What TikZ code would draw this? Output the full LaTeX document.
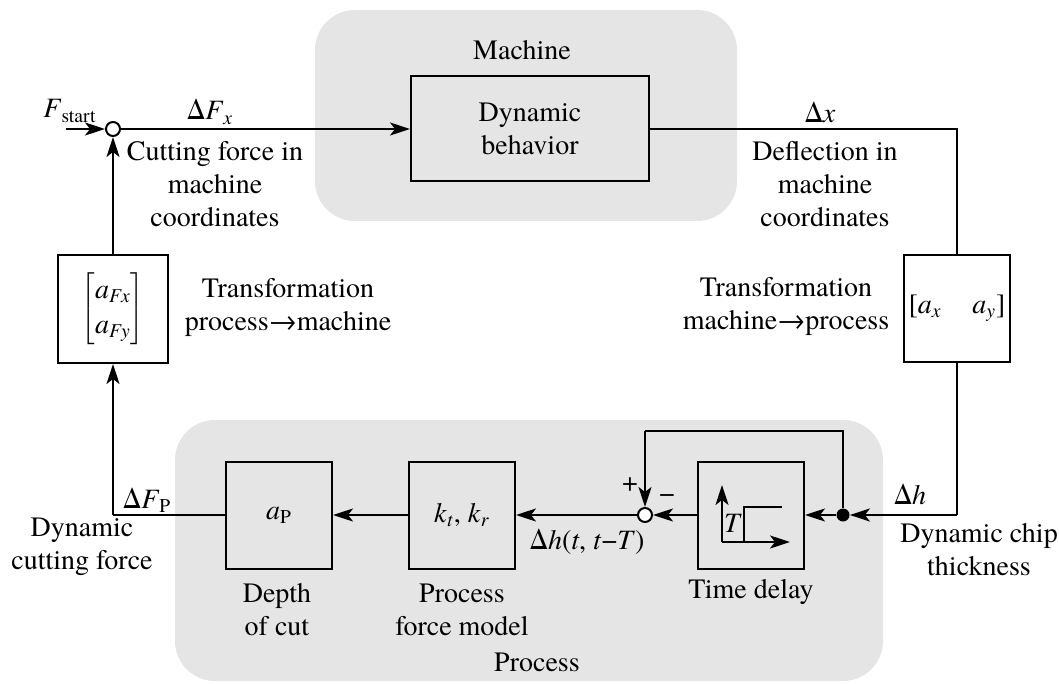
\documentclass[tikz,border=0pt]{standalone}
\usepackage{fontspec}
\setmainfont{texgyretermes}[Extension=.otf,UprightFont=*-regular,ItalicFont=*-italic,BoldFont=*-bold,BoldItalicFont=*-bolditalic]
\usetikzlibrary{arrows.meta}
\newcommand\iv[1]{\textit{#1}}
\begin{document}
\begin{tikzpicture}[x=0.5pt,y=-0.5pt,
  every node/.style={font=\fontsize{14}{16.5}\selectfont},
  line/.style={line width=1pt},
  arr/.style={line width=1pt,-{Stealth[length=10pt,width=6.5pt,inset=2.5pt]}},
  blk/.style={draw,line width=1pt,inner sep=0pt},
  region/.style={fill=gray!20,rounded corners=20pt},
  junc/.style={circle,draw,line width=1pt,fill=white,minimum size=7pt,inner sep=0pt},
  txt/.style={align=center,inner sep=0pt}]
\useasboundingbox (0,0) rectangle (1059,684);
% regions
\fill[region] (315,10) rectangle (737,221);
\fill[region] (175,420) rectangle (883,681);
% blocks
\node[blk,minimum width=119pt,minimum height=52.5pt,txt] (dyn) at (530,129) {Dynamic\\behavior};
\node[blk,minimum width=55pt,minimum height=54pt] (L) at (113,309)
  {$\left[\begin{array}{@{}c@{}}\mbox{\iv{a}\textsubscript{\iv{Fx}}}\\[1pt]\mbox{\iv{a}\textsubscript{\iv{Fy}}}\end{array}\right]$};
\node[blk,minimum width=53pt,minimum height=53.5pt] (R) at (957,308.5) {[\iv{a}\textsubscript{\iv{x}}\hspace{1.1em}\iv{a}\textsubscript{\iv{y}}]};
\node[blk,minimum width=53pt,minimum height=53.5pt] (TD) at (751,515) {};
\node[blk,minimum width=53pt,minimum height=53.5pt] (kt) at (462,515) {\iv{k}\textsubscript{\iv{t}}, \iv{k}\textsubscript{\iv{r}}};
\node[blk,minimum width=53pt,minimum height=53.5pt] (aP) at (279,515) {\iv{a}\textsubscript{P}};
% junctions
\node[junc] (c1) at (113,129) {};
\node[junc] (c2) at (645,515) {};
\node[circle,fill=black,minimum size=6.5pt,inner sep=0pt] (dot) at (843,515) {};
\coordinate (fs) at (66,129);
\coordinate (k1) at (957,129);
\coordinate (k2) at (957,515);
\coordinate (k3) at (113,515);
\coordinate (f1) at (843,431);
\coordinate (f2) at (645,431);
% connectors
\draw[arr] (fs) -- (c1);
\draw[arr] (c1) -- (dyn);
\draw[line] (dyn.east) -- (k1) -- (R.north);
\draw[line] (R.south) -- (k2);
\draw[arr] (k2) -- (dot);
\draw[arr] (dot) -- (TD);
\draw[arr] (TD.west) -- (c2);
\draw[line] (dot) -- (f1) -- (f2);
\draw[arr] (f2) -- (c2);
\draw[arr] (c2) -- (kt);
\draw[arr] (kt) -- (aP);
\draw[line] (aP.west) -- (k3);
\draw[arr] (k3) -- (L);
\draw[arr] (L) -- (c1);
% time delay symbol
\draw[arr] (722,542) -- (722,485);
\draw[arr] (722,542) -- (790,542);
\draw[line] (744,542) -- (744,507) -- (782,507);
\node[inner sep=0pt] (T) at (733,523) {\iv{T}};
% labels
\node (lm) at (522,50) {Machine};
\node (lfs) at (70,111) {\iv{F}\textsubscript{start}};
\node (ldfx) at (210,112) {Δ\iv{F}\textsubscript{\iv{x}}};
\node[txt] (lcut) at (215,184) {Cutting force in\\machine\\coordinates};
\node (ldx) at (820,112) {Δ\iv{x}};
\node[txt] (ldef) at (825,184) {Deflection in\\machine\\coordinates};
\node[txt] (ltr1) at (288,307) {Transformation\\process→machine};
\node[txt] (ltr2) at (786,306) {Transformation\\machine→process};
\node (ldh) at (910,494) {Δ\iv{h}};
\node[txt] (lchip) at (979,550) {Dynamic chip\\thickness};
\node (ltd) at (751,592) {Time delay};
\node (ldht) at (587,542) {Δ\iv{h}(\iv{t}, \iv{t}−\iv{T})};
\node (lplus) at (630,485) {+};
\node (lminus) at (667,499) {−};
\node[txt] (lpfm) at (462,610) {Process\\force model};
\node[txt] (ldoc) at (277,610) {Depth\\of cut};
\node (lproc) at (537,662) {Process};
\node[txt] (ldcf) at (82,547) {Dynamic\\cutting force};
\node (ldfp) at (147,500) {Δ\iv{F}\textsubscript{P}};
\end{tikzpicture}
\end{document}
